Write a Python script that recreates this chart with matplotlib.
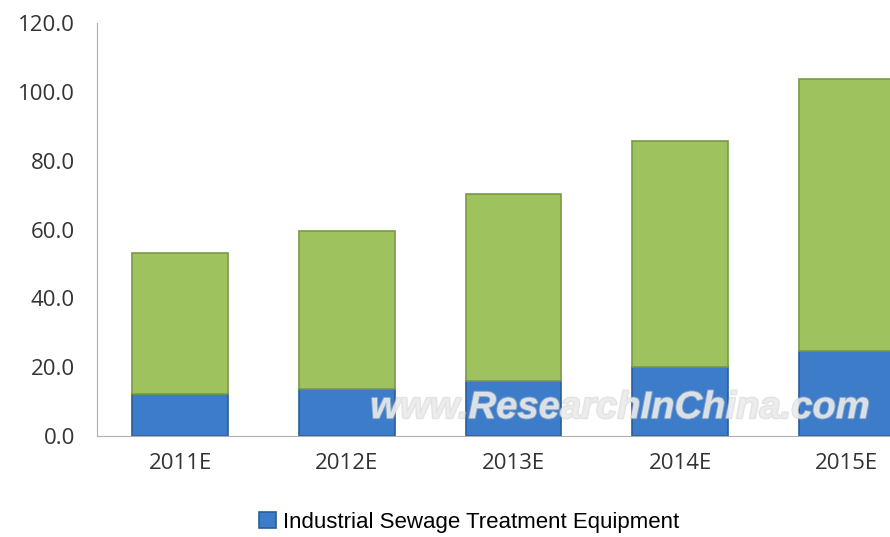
import matplotlib.pyplot as plt
import matplotlib.patheffects as pe

# Data
years = ["2011E", "2012E", "2013E", "2014E", "2015E"]
industrial = [12.2, 13.7, 16.0, 20.0, 24.7]
other = [41.0, 45.9, 54.3, 65.8, 79.1]
y_ticks = [0, 20, 40, 60, 80, 100, 120]

blue = "#3c7cc8"
green = "#9dc25e"

fig = plt.figure(figsize=(8.9, 5.37), dpi=100)
ax = fig.add_axes([0.109, 0.188, 0.891, 0.769])

x = range(len(years))
ax.bar(x, industrial, width=0.575, color=blue, edgecolor="#2a5d99", linewidth=1.2,
       label="Industrial Sewage Treatment Equipment")
ax.bar(x, other, width=0.575, bottom=industrial, color=green, edgecolor="#7a9a45", linewidth=1.2)

ax.set_xlim(-0.5, 4.26)
ax.set_ylim(0, 120)
ax.set_yticks(y_ticks)
ax.set_yticklabels([f"{v:.1f}" for v in y_ticks])
ax.set_xticks(list(x))
ax.set_xticklabels(years)

for s in ["top", "right"]:
    ax.spines[s].set_visible(False)
ax.spines["left"].set_color("#b0b0b0")
ax.spines["bottom"].set_color("#b0b0b0")
ax.tick_params(axis="both", length=0, labelsize=16, colors="#333333",
               labelfontfamily="Open Sans")
ax.tick_params(axis="y", pad=16)
ax.tick_params(axis="x", pad=12)

# watermark
fig.text(0.697, 0.24, "www.ResearchInChina.com", fontsize=27.5, fontweight="bold",
         fontstyle="italic", family="Liberation Sans", color="#ececec", alpha=0.8,
         ha="center", va="center",
         path_effects=[pe.withStroke(linewidth=1.5, foreground="#c8c8c8", alpha=0.5)])

fig.legend(loc="center", bbox_to_anchor=(0.527, 0.027), frameon=False,
           prop={"family": "Liberation Sans", "size": 16},
           handlelength=0.75, handleheight=0.75, handletextpad=0.3)

fig.savefig("out.png", dpi=100)
